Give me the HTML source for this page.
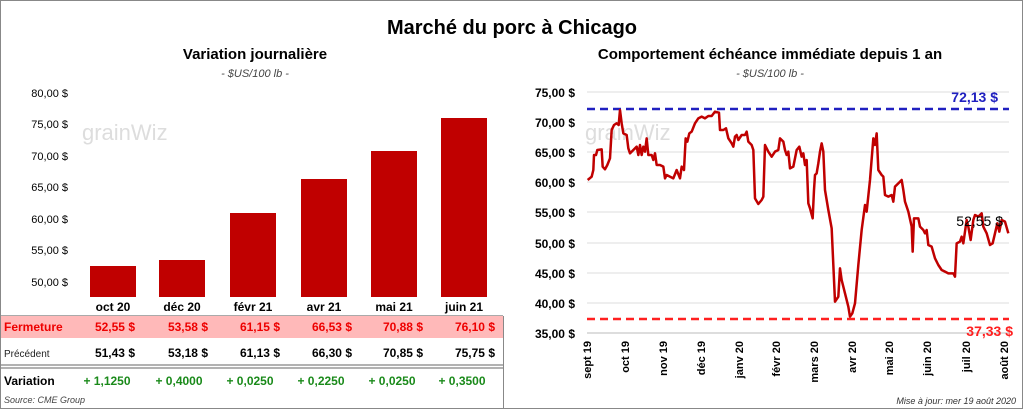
<!DOCTYPE html><html><head><meta charset="utf-8"><style>
body{margin:0;width:1024px;height:410px;overflow:hidden;background:#fff;font-family:"Liberation Sans",sans-serif}
</style></head><body>
<svg width="1024" height="410" xmlns="http://www.w3.org/2000/svg" font-family="Liberation Sans, sans-serif">
<rect x="0.5" y="0.5" width="1022" height="408" fill="#fff" stroke="#888"/>
<text x="512" y="34" text-anchor="middle" font-size="20" font-weight="bold">Marché du porc à Chicago</text>
<text x="255" y="59" text-anchor="middle" font-size="15" font-weight="bold">Variation  journalière</text>
<text x="255" y="77" text-anchor="middle" font-size="11" font-style="italic" fill="#444">- $US/100 lb -</text>
<text x="770" y="59" text-anchor="middle" font-size="15" font-weight="bold">Comportement  échéance immédiate depuis 1 an</text>
<text x="770" y="77" text-anchor="middle" font-size="11" font-style="italic" fill="#444">- $US/100 lb -</text>
<!-- left chart -->
<g font-size="11" fill="#000" text-anchor="end">
<text x="68" y="97">80,00 $</text><text x="68" y="128">75,00 $</text><text x="68" y="160">70,00 $</text><text x="68" y="191">65,00 $</text><text x="68" y="223">60,00 $</text><text x="68" y="254">55,00 $</text><text x="68" y="286">50,00 $</text>
</g>
<text x="82" y="140" font-size="22" fill="#ddd">grainWiz</text>
<g fill="#c00000">
<rect x="90" y="266" width="46" height="31"/><rect x="159" y="260" width="46" height="37"/><rect x="230" y="213" width="46" height="84"/><rect x="301" y="179" width="46" height="118"/><rect x="371" y="151" width="46" height="146"/><rect x="441" y="118" width="46" height="179"/>
</g>
<g font-size="12" font-weight="bold" text-anchor="middle">
<text x="113" y="311">oct 20</text><text x="182" y="311">déc 20</text><text x="253" y="311">févr 21</text><text x="324" y="311">avr 21</text><text x="394" y="311">mai 21</text><text x="464" y="311">juin 21</text>
</g>
<line x1="1" y1="316" x2="503" y2="316" stroke="#555"/>
<rect x="1" y="316" width="502" height="22" fill="#ffb9b9"/>
<text x="4" y="331" font-size="12" fill="#e00" font-weight="bold">Fermeture</text>
<g font-size="12" font-weight="bold" fill="#e00" text-anchor="end">
<text x="135" y="331">52,55  $</text><text x="208" y="331">53,58  $</text><text x="280" y="331">61,15  $</text><text x="352" y="331">66,53  $</text><text x="423" y="331">70,88  $</text><text x="495" y="331">76,10  $</text>
</g>
<text x="4" y="357" font-size="10" fill="#222">Précédent</text>
<g font-size="12" font-weight="bold" text-anchor="end">
<text x="135" y="357">51,43  $</text><text x="208" y="357">53,18  $</text><text x="280" y="357">61,13  $</text><text x="352" y="357">66,30  $</text><text x="423" y="357">70,85  $</text><text x="495" y="357">75,75  $</text>
</g>
<line x1="1" y1="365" x2="503" y2="365" stroke="#666"/><line x1="1" y1="368" x2="503" y2="368" stroke="#666"/>
<text x="4" y="385" font-size="12" font-weight="bold">Variation</text>
<g font-size="12" font-weight="bold" fill="#1a8a1a" text-anchor="middle">
<text x="107" y="385">+ 1,1250</text><text x="179" y="385">+ 0,4000</text><text x="250" y="385">+ 0,0250</text><text x="321" y="385">+ 0,2250</text><text x="392" y="385">+ 0,0250</text><text x="462" y="385">+ 0,3500</text>
</g>
<text x="4" y="403" font-size="9" font-style="italic" fill="#444">Source: CME Group</text>
<line x1="503.5" y1="316" x2="503.5" y2="409" stroke="#888"/>
<!-- right chart -->
<g stroke="#ddd" stroke-width="1">
<line x1="587" y1="92" x2="1009" y2="92"/><line x1="587" y1="122" x2="1009" y2="122"/><line x1="587" y1="152" x2="1009" y2="152"/><line x1="587" y1="182" x2="1009" y2="182"/><line x1="587" y1="212" x2="1009" y2="212"/><line x1="587" y1="243" x2="1009" y2="243"/><line x1="587" y1="273" x2="1009" y2="273"/><line x1="587" y1="303" x2="1009" y2="303"/>
</g>
<line x1="587" y1="333" x2="1009" y2="333" stroke="#bbb"/>
<g font-size="12" font-weight="bold" text-anchor="end">
<text x="575" y="97">75,00 $</text><text x="575" y="127">70,00 $</text><text x="575" y="157">65,00 $</text><text x="575" y="187">60,00 $</text><text x="575" y="217">55,00 $</text><text x="575" y="248">50,00 $</text><text x="575" y="278">45,00 $</text><text x="575" y="308">40,00 $</text><text x="575" y="338">35,00 $</text>
</g>
<text x="585" y="140" font-size="22" fill="#ddd">grainWiz</text>
<line x1="587" y1="109" x2="1009" y2="109" stroke="#2020c0" stroke-width="2.5" stroke-dasharray="8,5"/>
<line x1="587" y1="319" x2="1009" y2="319" stroke="#ff2020" stroke-width="2.5" stroke-dasharray="8,5"/>
<text x="998" y="102" font-size="14" font-weight="bold" fill="#2020c0" text-anchor="end">72,13 $</text>
<text x="1013" y="336" font-size="14" font-weight="bold" fill="#ff2020" text-anchor="end">37,33 $</text>
<g transform="translate(520,80) scale(0.33333)">
<polyline fill="none" stroke="#c00000" stroke-width="7.5" stroke-linejoin="round" points="203,300 215,290 220,270 222,225 228,225 232,210 245,208 248,260 255,268 262,255 270,235 275,150 282,135 290,130 296,135 300,90 305,130 310,160 320,165 325,205 330,220 340,210 350,200 355,225 360,195 365,225 370,200 375,215 380,175 385,225 395,225 400,240 405,220 410,255 420,255 430,260 435,295 440,285 460,295 470,270 480,295 485,260 492,270 497,175 502,185 508,160 515,155 525,130 535,115 545,110 555,115 565,108 575,108 585,95 597,98 600,150 610,150 618,145 625,175 635,190 640,200 645,170 650,165 655,180 665,165 675,165 680,155 685,185 695,195 700,210 705,355 715,372 725,360 730,350 735,195 745,215 755,230 765,215 775,210 780,175 790,185 795,210 800,225 805,215 810,265 820,260 830,210 838,200 845,230 850,220 855,255 860,240 865,370 870,385 878,415 882,330 885,285 890,280 895,250 900,215 905,190 910,215 915,330 925,390 935,445 945,665 955,650 960,565 965,600 975,640 985,680 990,710 997,700 1005,670 1015,555 1025,450 1035,375 1040,395 1050,300 1060,175 1065,195 1070,160 1075,270 1085,285 1090,290 1095,345 1105,350 1115,345 1120,365 1125,320 1135,310 1145,300 1150,330 1155,365 1165,395 1175,440 1178,515 1182,415 1195,415 1200,440 1210,450 1215,460 1220,450 1225,495 1235,500 1245,535 1255,555 1265,570 1275,575 1285,580 1300,580 1305,590 1310,490 1320,485 1325,470 1330,490 1340,420 1345,440 1352,480 1360,420 1365,405 1375,410 1385,400 1390,440 1400,460 1410,495 1418,490 1425,460 1432,430 1438,455 1445,420 1455,425 1465,460"/>
</g>
<text x="1003" y="226" font-size="14" text-anchor="end">52,55 $</text>
<g font-size="11" font-weight="bold" text-anchor="end">
<text transform="translate(591,341) rotate(-90)">sept 19</text>
<text transform="translate(629,341) rotate(-90)">oct 19</text>
<text transform="translate(667,341) rotate(-90)">nov 19</text>
<text transform="translate(705,341) rotate(-90)">déc 19</text>
<text transform="translate(743,341) rotate(-90)">janv 20</text>
<text transform="translate(780,341) rotate(-90)">févr 20</text>
<text transform="translate(818,341) rotate(-90)">mars 20</text>
<text transform="translate(856,341) rotate(-90)">avr 20</text>
<text transform="translate(893,341) rotate(-90)">mai 20</text>
<text transform="translate(931,341) rotate(-90)">juin 20</text>
<text transform="translate(970,341) rotate(-90)">juil 20</text>
<text transform="translate(1008,341) rotate(-90)">août 20</text>
</g>
<text x="1016" y="404" font-size="9" font-style="italic" fill="#333" text-anchor="end">Mise à jour: mer 19 août 2020</text>
</svg>
</body></html>
